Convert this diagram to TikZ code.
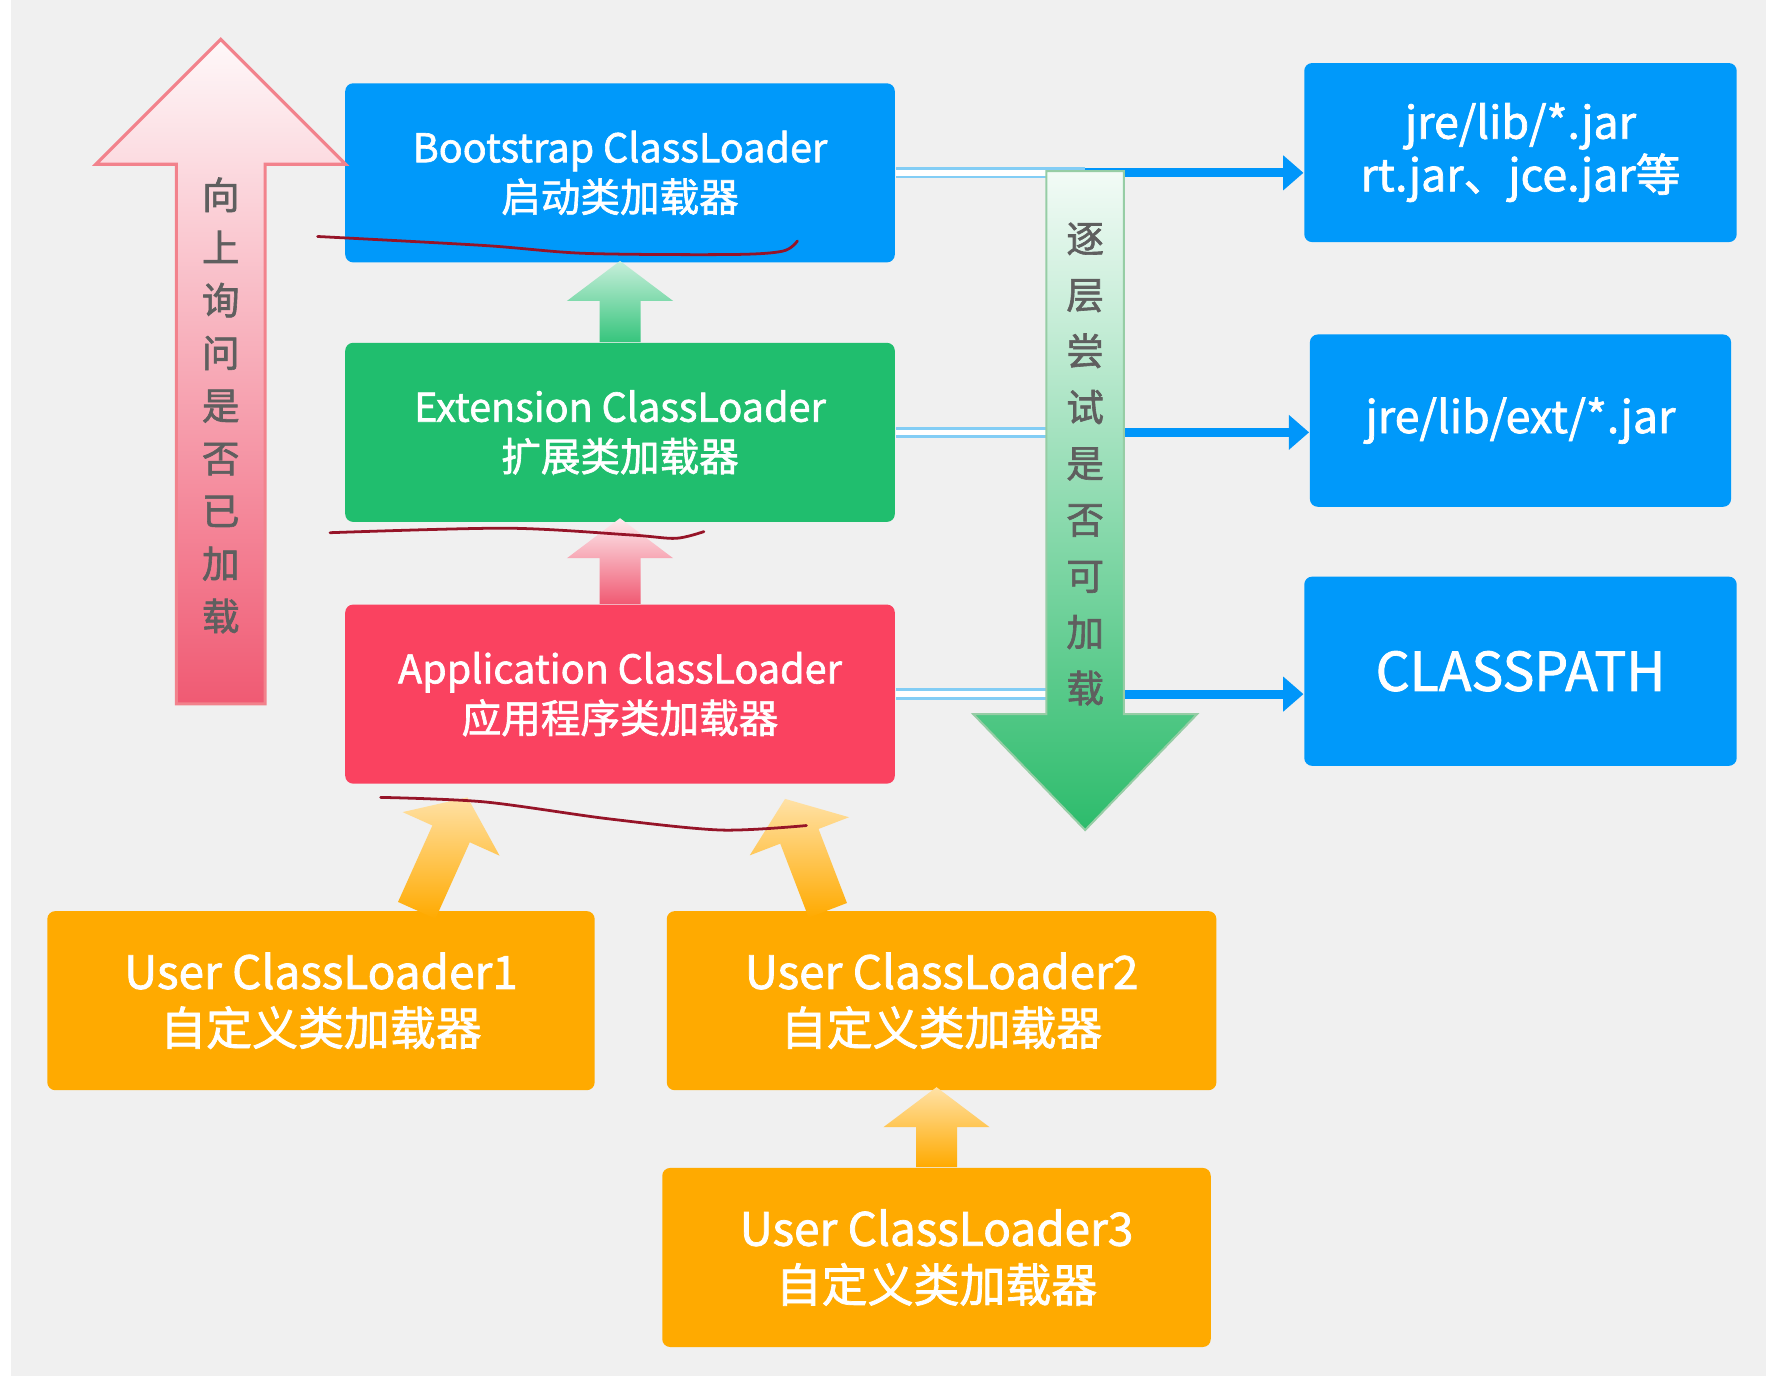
\documentclass[tikz,border=0pt]{standalone}
\usepackage{fontspec}
\setmainfont{Noto Sans CJK SC}
\newfontfamily\heavyfont{Noto Sans CJK SC}[FakeBold=1.6]
\usepackage{tikz}
\usetikzlibrary{positioning, arrows.meta, shapes.arrows, calc}
\definecolor{PageGray}{RGB}{240,240,240}
\definecolor{BootBlue}{RGB}{0,153,250}
\definecolor{ExtGreen}{RGB}{32,190,110}
\definecolor{AppRed}{RGB}{250,66,96}
\definecolor{UserOrange}{RGB}{255,170,0}
\definecolor{AskPink}{RGB}{240,90,115}
\definecolor{AskLine}{RGB}{242,130,140}
\definecolor{TryGreen}{RGB}{45,188,108}
\definecolor{TryLine}{RGB}{150,205,165}
\definecolor{LabelGray}{RGB}{95,95,95}
\definecolor{LinkBlue}{RGB}{0,150,250}
\definecolor{LinkPale}{RGB}{130,205,245}
\definecolor{InkRed}{RGB}{150,20,40}
\tikzstyle{loader} = [rectangle, rounded corners=2pt, text=white, align=center, inner sep=0pt, minimum width=4.88cm, minimum height=1.59cm, font=\heavyfont\fontsize{10}{12.5}\selectfont]
\tikzstyle{pathbox} = [rectangle, rounded corners=2pt, fill=BootBlue, text=white, align=center, inner sep=0pt, font=\heavyfont\fontsize{11.3}{12.2}\selectfont]
\tikzstyle{userbox} = [loader, fill=UserOrange, font=\heavyfont\fontsize{11.6}{14.2}\selectfont]
\tikzstyle{linkarrow} = [LinkBlue, line width=0.08cm, -{Triangle[width=0.3cm, length=0.18cm]}]
\tikzstyle{linkpale} = [draw=LinkPale, line width=0.025cm, double=white, double distance=0.05cm]
\tikzstyle{scribble} = [InkRed, line width=0.7pt, line cap=round]
\tikzset{
  blockarrow/.style={single arrow, draw=none, anchor=tail, inner xsep=0pt, outer sep=0pt},
  smallup/.style={blockarrow, inner ysep=0.175cm, single arrow head extend=0.29cm, single arrow tip angle=106},
  userup/.style={smallup, top color=UserOrange!35, bottom color=UserOrange},
  vlabel/.style={align=center, text=LabelGray, font=\heavyfont\fontsize{9.5}{13.3}\selectfont}
}
\begin{document}
\begin{tikzpicture}
  \useasboundingbox (0,0) rectangle (15.68,12.22);
  \fill[PageGray] (0,0) rectangle (15.68,12.22);
  \fill[white] (0,0) rectangle (0.1,12.22);

  % Loader chain
  \node[loader, fill=BootBlue] (boot) at (5.505,10.685) {Bootstrap ClassLoader\\启动类加载器};
  \node[loader, fill=ExtGreen, below=0.70cm of boot] (ext) {Extension ClassLoader\\扩展类加载器};
  \node[loader, fill=AppRed, below=0.72cm of ext] (app) {Application ClassLoader\\应用程序类加载器};

  % User loaders
  \node[userbox, minimum width=4.86cm] (user1) at (2.85,3.335) {User ClassLoader1\\自定义类加载器};
  \node[userbox] (user2) at (8.36,3.335) {User ClassLoader2\\自定义类加载器};
  \node[userbox, minimum width=4.87cm] (user3) at (8.315,1.055) {User ClassLoader3\\自定义类加载器};

  % Search paths
  \node[pathbox, minimum width=3.84cm, minimum height=1.59cm] (jre) at (13.50,10.865) {jre/lib/*.jar\\rt.jar、jce.jar等};
  \node[pathbox, minimum width=3.74cm, minimum height=1.53cm] (extdir) at (13.50,8.485) {jre/lib/ext/*.jar};
  \node[pathbox, minimum width=3.84cm, minimum height=1.68cm, font=\heavyfont\fontsize{13.5}{15}\selectfont] (cp) at (13.50,6.26) {CLASSPATH};

  % Loader to path links
  \coordinate (trycol) at (9.635,10.70);
  \draw[linkarrow] (boot.east) -- (boot.east -| jre.west);
  \draw[linkarrow] (ext.east) -- (ext.east -| extdir.west);
  \draw[linkarrow] (app.east) -- (app.east -| cp.west);
  \draw[linkpale] (boot.east) -- (boot.east -| trycol);
  \draw[linkpale] (ext.east) -- (ext.east -| trycol);
  \draw[linkpale] (app.east) -- (app.east -| trycol);

  % Delegation arrows
  \node[smallup, minimum height=0.72cm, rotate=90, top color=ExtGreen!25, bottom color=ExtGreen!90] (extup) at (ext.north) {};
  \node[smallup, minimum height=0.76cm, rotate=90, top color=AskPink!12, bottom color=AskPink] (appup) at (app.north) {};
  \node[userup, minimum height=1.10cm, rotate=65.8] (u1up) at ($(user1.north)+(0.85,0)$) {};
  \node[userup, minimum height=1.06cm, rotate=111] (u2up) at ($(user2.north)+(-1.01,0)$) {};
  \node[userup, minimum height=0.71cm, rotate=90] (u3up) at (user3.north) {};

  % Ask upward
  \node[blockarrow, inner ysep=0.38cm, single arrow head extend=0.715cm, minimum height=5.90cm, rotate=90,
        draw=AskLine, line width=0.8pt, top color=AskPink!4, bottom color=AskPink] (askarrow) at (1.96,5.97) {};
  \node[vlabel] (asklabel) at (1.96,8.62) {向\\上\\询\\问\\是\\否\\已\\加\\载};

  % Try downward
  \node[blockarrow, inner ysep=0.335cm, single arrow head extend=0.65cm, single arrow tip angle=88, minimum height=5.85cm, rotate=-90,
        draw=TryLine, line width=0.5pt, top color=TryGreen!6, bottom color=TryGreen] (tryarrow) at (trycol) {};
  \node[vlabel, font=\heavyfont\fontsize{9.5}{14.2}\selectfont] (trylabel) at (9.635,8.10) {逐\\层\\尝\\试\\是\\否\\可\\加\\载};

  % Hand marks
  \draw[scribble] plot[smooth] coordinates {(2.82,10.12) (4.3,10.04) (5.2,9.97) (6.5,9.96) (6.95,9.99) (7.08,10.08)};
  \draw[scribble] plot[smooth] coordinates {(2.93,7.49) (4.5,7.53) (5.6,7.47) (6.0,7.44) (6.25,7.50)};
  \draw[scribble] plot[smooth] coordinates {(3.38,5.14) (4.3,5.10) (5.4,4.95) (6.4,4.85) (7.16,4.89)};
\end{tikzpicture}
\end{document}
